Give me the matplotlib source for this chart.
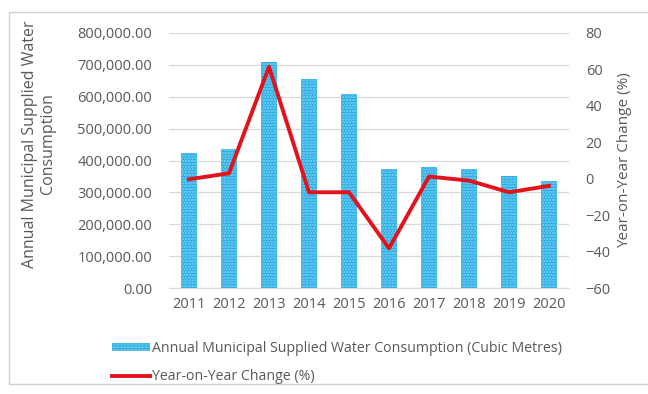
import matplotlib.pyplot as plt
from matplotlib.patches import Rectangle
from matplotlib.ticker import FuncFormatter

plt.rcParams['font.family'] = ['Open Sans', 'DejaVu Sans']
plt.rcParams['hatch.linewidth'] = 1.2

# 年度用水量與年增率
years = ['2011', '2012', '2013', '2014', '2015', '2016', '2017', '2018', '2019', '2020']
consumption = [422000, 436000, 709000, 655000, 608000, 374000, 381000, 374000, 350000, 337000]
yoy_change = [-0.3, 3.0, 61.3, -7.4, -7.4, -38.1, 1.2, -1.0, -7.4, -3.9]

text_color = '#595959'
grid_color = '#d9d9d9'
bar_color = '#1ca8e3'
line_color = '#e3121b'

fig = plt.figure(figsize=(6.48, 3.94), dpi=100)
ax = fig.add_axes([169 / 648, 1 - 288.3 / 394, 400 / 648, 255.6 / 394])

# 外框
fig.patches.append(Rectangle((9 / 648, 1 - 384 / 394), 1.0, (384 - 12) / 394,
                             transform=fig.transFigure, fill=False,
                             edgecolor='#d0d0d0', linewidth=1.0))

x = range(len(years))
bars = ax.bar(x, consumption, width=0.4, color=bar_color, edgecolor='#8cd6f4',
              hatch='......', linewidth=0, zorder=2,
              label='Annual Municipal Supplied Water Consumption (Cubic Metres)')
ax.set_ylim(0, 800000)
ax.set_xlim(-0.5, len(years) - 0.5)
ax.set_yticks(range(0, 800001, 100000))
ax.yaxis.set_major_formatter(FuncFormatter(lambda v, p: f'{v:,.2f}'))
ax.set_xticks(list(x))
ax.set_xticklabels(years)
ax.grid(axis='y', color=grid_color, linewidth=0.9, zorder=0)
ax.set_axisbelow(True)
for s in ['top', 'right', 'left']:
    ax.spines[s].set_visible(False)
ax.spines['bottom'].set_color(grid_color)
ax.tick_params(axis='both', length=0, colors=text_color, labelsize=10.5)
ax.tick_params(axis='y', pad=12)
ax.tick_params(axis='x', pad=6)

ax2 = ax.twinx()
line, = ax2.plot(x, yoy_change, color=line_color, linewidth=2.8, zorder=3,
                 label='Year-on-Year Change (%)')
ax2.set_ylim(-60, 80)
ax2.set_yticks(range(-60, 81, 20))
for s in ax2.spines.values():
    s.set_visible(False)
ax2.tick_params(axis='y', length=0, colors=text_color, labelsize=10.5, pad=12)

fig.text(39 / 648, 1 - 144 / 394, 'Annual Municipal Supplied Water\nConsumption',
         rotation=90, ha='center', va='center', multialignment='center',
         color=text_color, fontsize=11.5, linespacing=1.15)
fig.text(625 / 648, 1 - 160 / 394, 'Year-on-Year Change (%)', rotation=90,
         ha='center', va='center', color=text_color, fontsize=11)

leg = fig.legend(handles=[bars, line], loc='upper left',
                 bbox_to_anchor=(106 / 648, 1 - 335 / 394), frameon=False,
                 fontsize=10.2, handlelength=2.7, handleheight=0.5,
                 handletextpad=0.15, labelspacing=0.95, borderaxespad=0)
for t in leg.get_texts():
    t.set_color(text_color)

fig.savefig('out.png', dpi=100)
